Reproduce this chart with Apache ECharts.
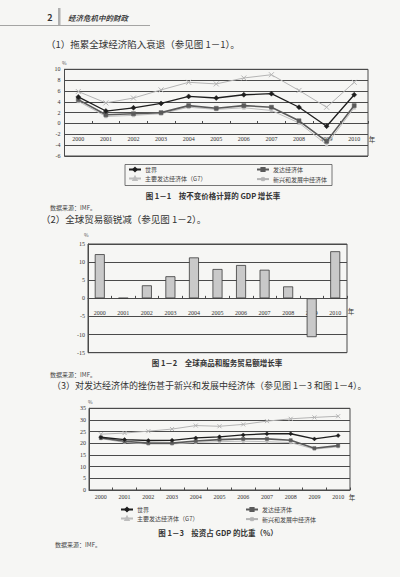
<!DOCTYPE html>
<html>
<head>
<meta charset="utf-8">
<script src="https://cdn.jsdelivr.net/npm/echarts@6/dist/echarts.min.js"></script>
<style>
  html, body { margin: 0; padding: 0; background: #f6f6f4; }
  #page { width: 400px; height: 577px; }
</style>
</head>
<body>
<div id="page"></div>
<script>
// categories
const years = ['2000', '2001', '2002', '2003', '2004', '2005', '2006', '2007', '2008', '2009', '2010']

// fig 1-1 GDP growth, %
const gdpWorld = [4.9, 2.3, 2.9, 3.7, 5.0, 4.7, 5.3, 5.5, 3.0, -0.5, 5.3]
const gdpAdvanced = [4.4, 1.6, 1.8, 2.0, 3.3, 2.8, 3.3, 3.0, 0.5, -3.3, 3.3]
const gdpG7 = [4.1, 1.3, 1.5, 1.8, 3.0, 2.6, 2.9, 2.4, 0.1, -3.9, 2.9]
const gdpEmerging = [5.9, 3.8, 4.7, 6.2, 7.6, 7.3, 8.4, 9.0, 6.1, 3.0, 7.6]

// fig 1-2 world trade growth, %
const tradeGrowth = [12.2, 0.1, 3.6, 6.1, 11.3, 8.1, 9.2, 7.9, 3.3, -10.7, 13.0]

// fig 1-3 investment share of GDP, %
const invWorld = [22.6, 21.6, 21.2, 21.3, 22.3, 22.8, 23.6, 24.1, 24.1, 21.9, 23.3]
const invAdvanced = [22.3, 20.9, 20.1, 20.1, 21.0, 21.6, 21.9, 21.9, 21.3, 17.9, 19.0]
const invG7 = [22.0, 20.4, 19.7, 19.7, 20.4, 20.7, 20.9, 20.7, 20.3, 17.5, 18.5]
const invEmerging = [23.9, 24.4, 25.2, 26.1, 27.6, 27.3, 28.1, 29.5, 30.5, 31.1, 31.6]

// tick labels
const gdpTicks = { min: -6, max: 10, interval: 2 }
const tradeTicks = { min: -15, max: 15, interval: 5 }
const invTicks = { min: 0, max: 35, interval: 5 }

const names = ['世界', '发达经济体', '主要发达经济体（G7）', '新兴和发展中经济体']

const serif = '"Liberation Serif", "Noto Sans CJK SC", serif'
const cjk = '"Noto Sans CJK SC", sans-serif'
const ink = '#333'
const gridInk = '#4a4a4a'
const crossSymbol = 'path://M0,0L10,10M10,0L0,10'

const lineStyles = [
  { symbol: 'diamond', size: 5, color: '#1e1e1e', width: 1.3 },
  { symbol: 'rect', size: 4, color: '#5a5a5a', width: 1.6 },
  { symbol: 'triangle', size: 3, color: '#bdbdbd', width: 1 },
  { symbol: crossSymbol, size: 5, color: '#b4b4b4', width: 1 }
]

const grids = [
  { left: 64.5, top: 69.3, width: 303.5, height: 86.7 },
  { left: 88, top: 244, width: 259, height: 108.7 },
  { left: 89, top: 408.3, width: 261, height: 81.7 }
]

// how far the zero line sits above the grid bottom
const zeroLift = (g, ticks) => g.height * (0 - ticks.min) / (ticks.max - ticks.min)

const makeX = (gridIndex, ticks, margin) => ({
  type: 'category',
  gridIndex: gridIndex,
  data: years,
  offset: -zeroLift(grids[gridIndex], ticks),
  axisLine: { show: true, onZero: false, lineStyle: { color: gridInk, width: 1 } },
  axisTick: { show: true, inside: true, length: 2.5, interval: 0, lineStyle: { color: gridInk } },
  axisLabel: { interval: 0, margin: margin, fontSize: 6, fontFamily: serif, color: ink },
  splitLine: { show: false }
})

const makeY = (gridIndex, ticks, margin) => ({
  type: 'value',
  gridIndex: gridIndex,
  min: ticks.min,
  max: ticks.max,
  interval: ticks.interval,
  axisLine: { show: true, lineStyle: { color: gridInk } },
  axisTick: { show: false },
  axisLabel: { margin: margin, fontSize: 6, fontFamily: serif, color: ink },
  splitLine: { show: true, lineStyle: { color: gridInk, width: 1.1 } }
})

const makeLine = (name, data, idx, axisIndex, scale) => ({
  name: name,
  type: 'line',
  xAxisIndex: axisIndex,
  yAxisIndex: axisIndex,
  data: data,
  symbol: lineStyles[idx].symbol,
  symbolSize: lineStyles[idx].size * scale,
  lineStyle: { color: lineStyles[idx].color, width: lineStyles[idx].width },
  itemStyle: {
    color: idx === 3 ? 'none' : lineStyles[idx].color,
    borderColor: lineStyles[idx].color,
    borderWidth: idx === 3 ? 1 : 0.5
  },
  z: 3 + (3 - idx)
})

const makeLegend = (data, left, top) => ({
  data: data,
  orient: 'vertical',
  left: left,
  top: top,
  itemWidth: 12,
  itemHeight: 4,
  itemGap: 2,
  padding: 0,
  selectedMode: false,
  textStyle: { fontSize: 6, lineHeight: 7, fontFamily: cjk, color: '#444', padding: [0, 0, 0, -1] }
})

const text = (str, x, y, size, opts) => ({
  type: 'text',
  x: x,
  y: y,
  silent: true,
  style: {
    text: str,
    font: (opts && opts.weight ? opts.weight + ' ' : '') + size + 'px ' + cjk,
    fill: (opts && opts.fill) || ink,
    align: (opts && opts.align) || 'left',
    verticalAlign: 'middle'
  }
})

const chart = echarts.init(document.getElementById('page'), null, { renderer: 'svg' })

const option = {
  animation: false,
  backgroundColor: '#f6f6f4',
  grid: grids.map(g => Object.assign({ show: true, borderColor: gridInk, borderWidth: 1 }, g)),
  xAxis: [makeX(0, gdpTicks, 13), makeX(1, tradeTicks, 12), makeX(2, invTicks, 4)],
  yAxis: [makeY(0, gdpTicks, 4), makeY(1, tradeTicks, 3), makeY(2, invTicks, 3)],
  legend: [
    makeLegend([names[0], names[2]], 128, 166),
    makeLegend([names[1], names[3]], 256, 166),
    makeLegend([names[0], names[2]], 120, 506),
    makeLegend([names[1], names[3]], 245, 506)
  ],
  series: [
    makeLine(names[0], gdpWorld, 0, 0, 1),
    makeLine(names[1], gdpAdvanced, 1, 0, 1),
    makeLine(names[2], gdpG7, 2, 0, 1),
    makeLine(names[3], gdpEmerging, 3, 0, 1),
    {
      name: '贸易额增长率',
      type: 'bar',
      xAxisIndex: 1,
      yAxisIndex: 1,
      data: tradeGrowth,
      barWidth: 10,
      itemStyle: { color: '#c9c9c9', borderColor: '#3a3a3a', borderWidth: 0.8 },
      z: 3
    },
    makeLine(names[0], invWorld, 0, 2, 0.8),
    makeLine(names[1], invAdvanced, 1, 2, 0.8),
    makeLine(names[2], invG7, 2, 2, 0.8),
    makeLine(names[3], invEmerging, 3, 2, 0.8)
  ],
  graphic: [
    // running head
    { type: 'rect', shape: { x: 0, y: 25, width: 150, height: 0.8 }, style: { fill: '#888' }, silent: true },
    { type: 'rect', shape: { x: 58, y: 8, width: 2.5, height: 17 }, style: { fill: '#b0b0b0' }, silent: true },
    text('2', 50, 17, 9, { weight: 'bold', align: 'center' }),
    text('经济危机中的财政', 68, 17, 7.5, { weight: 'italic bold', fill: '#444' }),

    // section 1
    text('（1）拖累全球经济陷入衰退（参见图 1－1）。', 46, 43.5, 9.5),
    text('%', 62, 62, 5, { fill: '#555' }),
    text('年', 372, 139, 6.5, { align: 'center' }),
    { type: 'rect', shape: { x: 125, y: 164.5, width: 207, height: 21 }, style: { fill: 'none', stroke: '#555', lineWidth: 0.8 }, silent: true },
    text('图 1－1　按不变价格计算的 GDP 增长率', 213, 195, 7.5, { weight: 'bold', align: 'center' }),
    text('数据来源：IMF。', 50, 207, 6, { fill: '#444' }),

    // section 2
    text('（2）全球贸易额锐减（参见图 1－2）。', 41, 218.5, 9.5),
    text('%', 84, 234, 5, { fill: '#555' }),
    text('年', 351, 311, 6.5, { align: 'center' }),
    text('图 1－2　全球商品和服务贸易额增长率', 217, 362, 7.5, { weight: 'bold', align: 'center' }),
    text('数据来源：IMF。', 50, 374.5, 6, { fill: '#444' }),

    // section 3
    text('（3）对发达经济体的挫伤甚于新兴和发展中经济体（参见图 1－3 和图 1－4）。', 52, 385.5, 9),
    text('%', 88, 401, 5, { fill: '#555' }),
    text('年', 352, 497, 6.5, { align: 'center' }),
    text('图 1－3　投资占 GDP 的比重（%）', 218, 532, 7.5, { weight: 'bold', align: 'center' }),
    text('数据来源：IMF。', 55, 544.5, 6, { fill: '#444' })
  ]
}

chart.setOption(option)
</script>
</body>
</html>
